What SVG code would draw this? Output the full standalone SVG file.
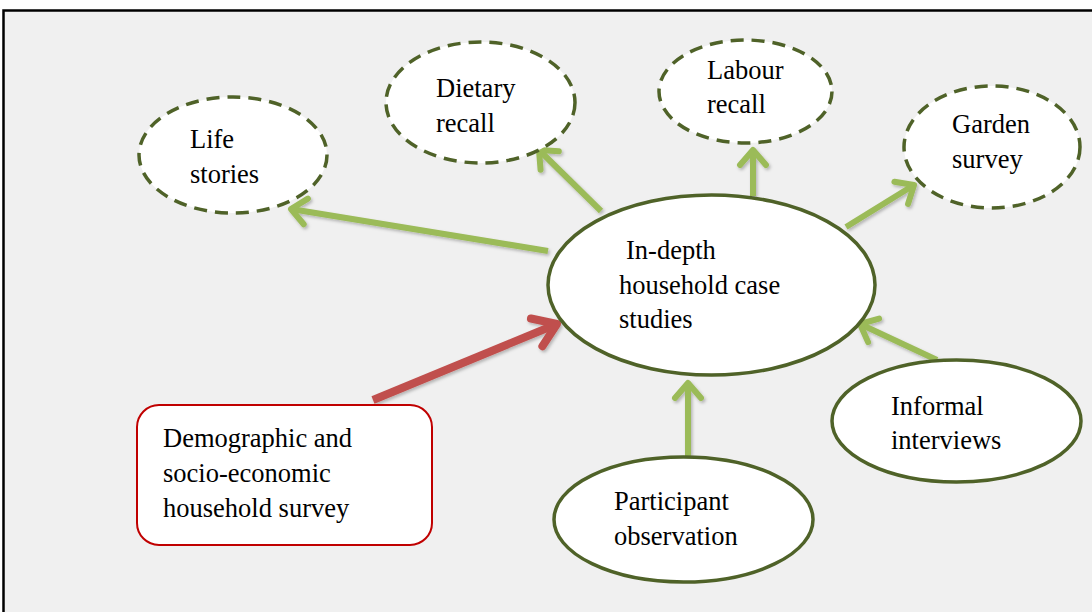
<svg xmlns="http://www.w3.org/2000/svg" width="1092" height="612" viewBox="0 0 1092 612">
<style>
.t{font-family:"Liberation Serif","Times New Roman",serif;font-size:26.5px;fill:#000}
.solid{fill:#fff;stroke:#4f6228;stroke-width:3.5}
.dash{fill:#fff;stroke:#4f6228;stroke-width:3.5;stroke-dasharray:13 8}
.g{stroke:#9bbb59;stroke-width:6;fill:none;marker-end:url(#ag)}
.r{stroke:#c0504d;stroke-width:8;fill:none;marker-end:url(#ar)}
</style>
<defs>
<filter id="sh" filterUnits="userSpaceOnUse" x="0" y="0" width="1092" height="612">
<feDropShadow dx="1.5" dy="2" stdDeviation="1.5" flood-color="#000" flood-opacity="0.25"/>
</filter>
<marker id="ag" markerUnits="userSpaceOnUse" orient="auto" refX="0" refY="0" markerWidth="40" markerHeight="40" viewBox="-30 -20 40 40" overflow="visible">
<path d="M-15,-13 L0,0 L-15,13" fill="none" stroke="#9bbb59" stroke-width="6" stroke-linecap="round" stroke-linejoin="round"/>
</marker>
<marker id="ar" markerUnits="userSpaceOnUse" orient="auto" refX="0" refY="0" markerWidth="40" markerHeight="40" viewBox="-30 -20 40 40" overflow="visible">
<path d="M-22,-15 L0,0 L-22,15" fill="none" stroke="#c0504d" stroke-width="8" stroke-linecap="round" stroke-linejoin="round"/>
</marker>
</defs>
<rect x="0" y="0" width="1092" height="612" fill="#fff"/>
<rect x="3.5" y="10.5" width="1100" height="700" fill="#f0f0f0" stroke="#000" stroke-width="2.5"/>

<g id="connectors" filter="url(#sh)">
<path class="g" d="M548,251 L291,209"/>
<path class="g" d="M601,211 L539,150"/>
<path class="g" d="M753,196 L753,150"/>
<path class="g" d="M846,227 L914,185"/>
<path class="g" d="M937,360 L860,324"/>
<path class="g" d="M688,457 L688,383"/>
<path class="r" d="M373,400 L557,324"/>
</g>

<g id="life-stories">
<ellipse class="dash" cx="233" cy="155" rx="94" ry="58"/>
<text class="t" x="190" y="148">Life</text>
<text class="t" x="190" y="183">stories</text>
</g>
<g id="dietary-recall">
<ellipse class="dash" cx="480.5" cy="102.5" rx="94.5" ry="60.5"/>
<text class="t" x="436" y="97">Dietary</text>
<text class="t" x="436" y="132">recall</text>
</g>
<g id="labour-recall">
<ellipse class="dash" cx="745.5" cy="91.5" rx="86.5" ry="51.5"/>
<text class="t" x="707" y="79">Labour</text>
<text class="t" x="707" y="113">recall</text>
</g>
<g id="garden-survey">
<ellipse class="dash" cx="992" cy="147" rx="88" ry="61"/>
<text class="t" x="952" y="133">Garden</text>
<text class="t" x="952" y="168">survey</text>
</g>
<g id="case-studies">
<ellipse class="solid" cx="711.5" cy="285" rx="163.5" ry="90"/>
<text class="t" x="626" y="259">In-depth</text>
<text class="t" x="619" y="294">household case</text>
<text class="t" x="619" y="328">studies</text>
</g>
<g id="informal-interviews">
<ellipse class="solid" cx="956.5" cy="421" rx="124.5" ry="61"/>
<text class="t" x="891" y="415">Informal</text>
<text class="t" x="891" y="449">interviews</text>
</g>
<g id="participant-observation">
<ellipse class="solid" cx="683.5" cy="519.5" rx="129.5" ry="62.5"/>
<text class="t" x="614" y="510">Participant</text>
<text class="t" x="614" y="545">observation</text>
</g>
<g id="household-survey">
<rect x="137" y="405" width="295" height="140" rx="22" ry="22" fill="#fff" stroke="#c00000" stroke-width="2"/>
<text class="t" x="163" y="447">Demographic and</text>
<text class="t" x="163" y="482">socio-economic</text>
<text class="t" x="163" y="517">household survey</text>
</g>
</svg>
